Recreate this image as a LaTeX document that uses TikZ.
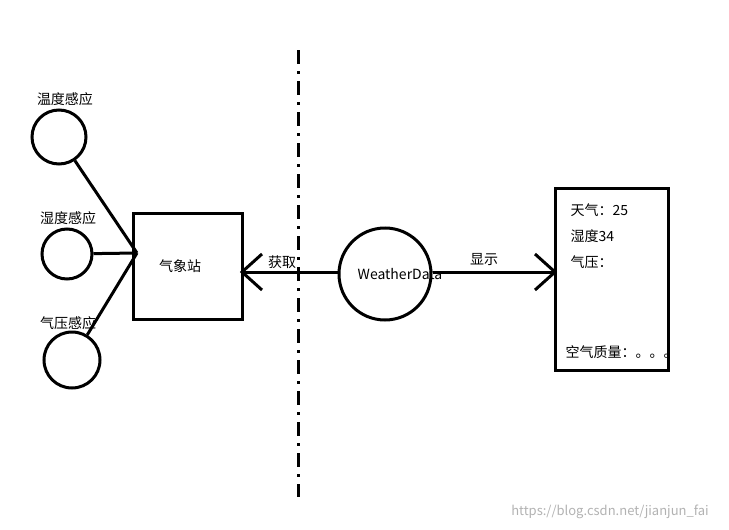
\documentclass[tikz,border=0pt]{standalone}
\usepackage{fontspec}
\newfontfamily\cjk{Noto Sans CJK SC}
\begin{document}
\begin{tikzpicture}[x=1pt,y=-1pt,line width=3pt,
  lbl/.style={font=\cjk\fontsize{14}{16}\selectfont,inner sep=0pt},
  sens/.style={draw,circle,inner sep=0pt}]
\useasboundingbox (0,0) rectangle (729,530);
\node[lbl] (l1) at (65,99) {温度感应};
\node[lbl] (l2) at (68,218) {湿度感应};
\node[lbl] (l3) at (68,323) {气压感应};
\node[sens,minimum size=54pt] (c1) at (59,137) {};
\node[sens,minimum size=50pt] (c2) at (67,254) {};
\node[sens,minimum size=56pt] (c3) at (72,360) {};
\node[draw,minimum width=109pt,minimum height=106pt,inner sep=0pt] (st) at (187.5,266) {};
\node[lbl] (stt) at (180,266) {气象站};
\coordinate (j) at (137,253);
\draw (c1) -- (j); \draw (c2) -- (j); \draw (c3) -- (j);
\coordinate (d1) at (298,50); \coordinate (d2) at (298,497);
\draw[dash pattern=on 14pt off 7pt on 3pt off 7pt] (d1) -- (d2);
\node[sens,minimum size=92pt] (wd) at (385,274) {};
\node[lbl] (wdt) at (400,274) {WeatherData};
\coordinate (a1) at (242,272);
\draw (wd.west |- a1) -- (a1);
\draw (262,254) -- (a1) -- (262,290);
\node[lbl] (g) at (282,262) {获取};
\node[draw,minimum width=113pt,minimum height=182pt,inner sep=0pt] (rb) at (611.5,279) {};
\coordinate (a2) at (555,272);
\draw (wd.east |- a2) -- (a2);
\draw (535,254) -- (a2) -- (535,290);
\node[lbl] (s) at (484,260) {显示};
\node[lbl,anchor=west] (t1) at (569,210) {天气：25};
\node[lbl,anchor=west] (t2) at (569,236) {湿度34};
\node[lbl,anchor=west] (t3) at (569,262) {气压：};
\node[lbl,anchor=west] (t4) at (564,352) {空气质量：。。。};
\node[lbl,text=gray!60,font=\cjk\fontsize{13}{15}\selectfont] (wm) at (610,512) {https://blog.csdn.net/jianjun\_fai};
\end{tikzpicture}
\end{document}
